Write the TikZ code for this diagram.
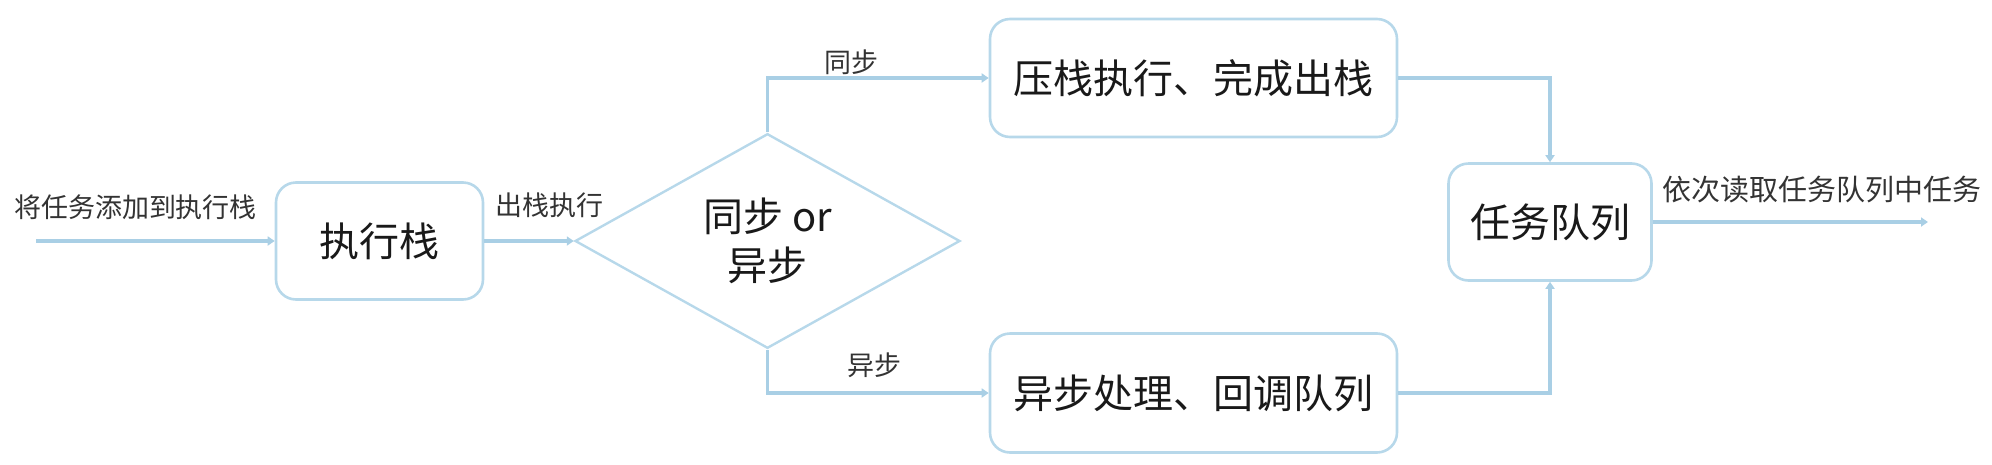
\documentclass[tikz,border=0pt]{standalone}
\usepackage{fontspec}
\setmainfont{Noto Sans CJK SC}
\usetikzlibrary{shapes.geometric,arrows.meta}
\definecolor{lineblue}{HTML}{A9CFE5}
\definecolor{boxblue}{HTML}{B7D8EA}
\definecolor{lbl}{HTML}{333333}
\tikzset{
  procbox/.style={draw=boxblue, line width=2.6pt, rounded corners=20pt, fill=white,
    inner sep=0pt, font=\fontsize{40}{48}\selectfont, text=black!90},
  decision/.style={draw=boxblue, shape=diamond, line width=2.4pt, inner sep=0pt,
    minimum width=385pt, minimum height=186pt, align=center,
    font=\fontsize{40}{49}\selectfont, text=black!90},
  conn/.style={draw=lineblue, line width=3.5pt, -{Triangle[width=9pt,length=7pt]}},
  lab/.style={font=\fontsize{27}{30}\selectfont, text=lbl, inner sep=0pt},
}
\begin{document}
\begin{tikzpicture}[x=1pt,y=-1pt]
\useasboundingbox (0,0) rectangle (1992,464);
\node[procbox, minimum width=207pt, minimum height=117pt] (exec) at (379.5,241) {执行栈};
\node[decision] (dia) at (767.5,241) {同步 or\\异步};
\node[procbox, minimum width=407pt, minimum height=118pt] (sync) at (1193.5,78) {压栈执行、完成出栈};
\node[procbox, minimum width=407pt, minimum height=119pt] (async) at (1193.5,393) {异步处理、回调队列};
\node[procbox, minimum width=203pt, minimum height=117pt] (queue) at (1550,222) {任务队列};
\coordinate (in) at (36,241);
\coordinate (out) at (1928,222);
\node[lab] (l1) at (135.5,207) {将任务添加到执行栈};
\node[lab, anchor=west] (l2) at (495,205) {出栈执行};
\node[lab] (l3) at (851,62) {同步};
\node[lab] (l4) at (874,365) {异步};
\node[lab, font=\fontsize{29}{32}\selectfont] (l5) at (1822,190) {依次读取任务队列中任务};
\draw[conn] (in) -- (exec.west);
\draw[conn] (exec.east) -- (dia.west);
\draw[conn] (dia.north) |- (sync.west);
\draw[conn] (dia.south) |- (async.west);
\draw[conn] (sync.east) -| (queue.north);
\draw[conn] (async.east) -| (queue.south);
\draw[conn] (queue.east) -- (out);
\end{tikzpicture}
\end{document}
